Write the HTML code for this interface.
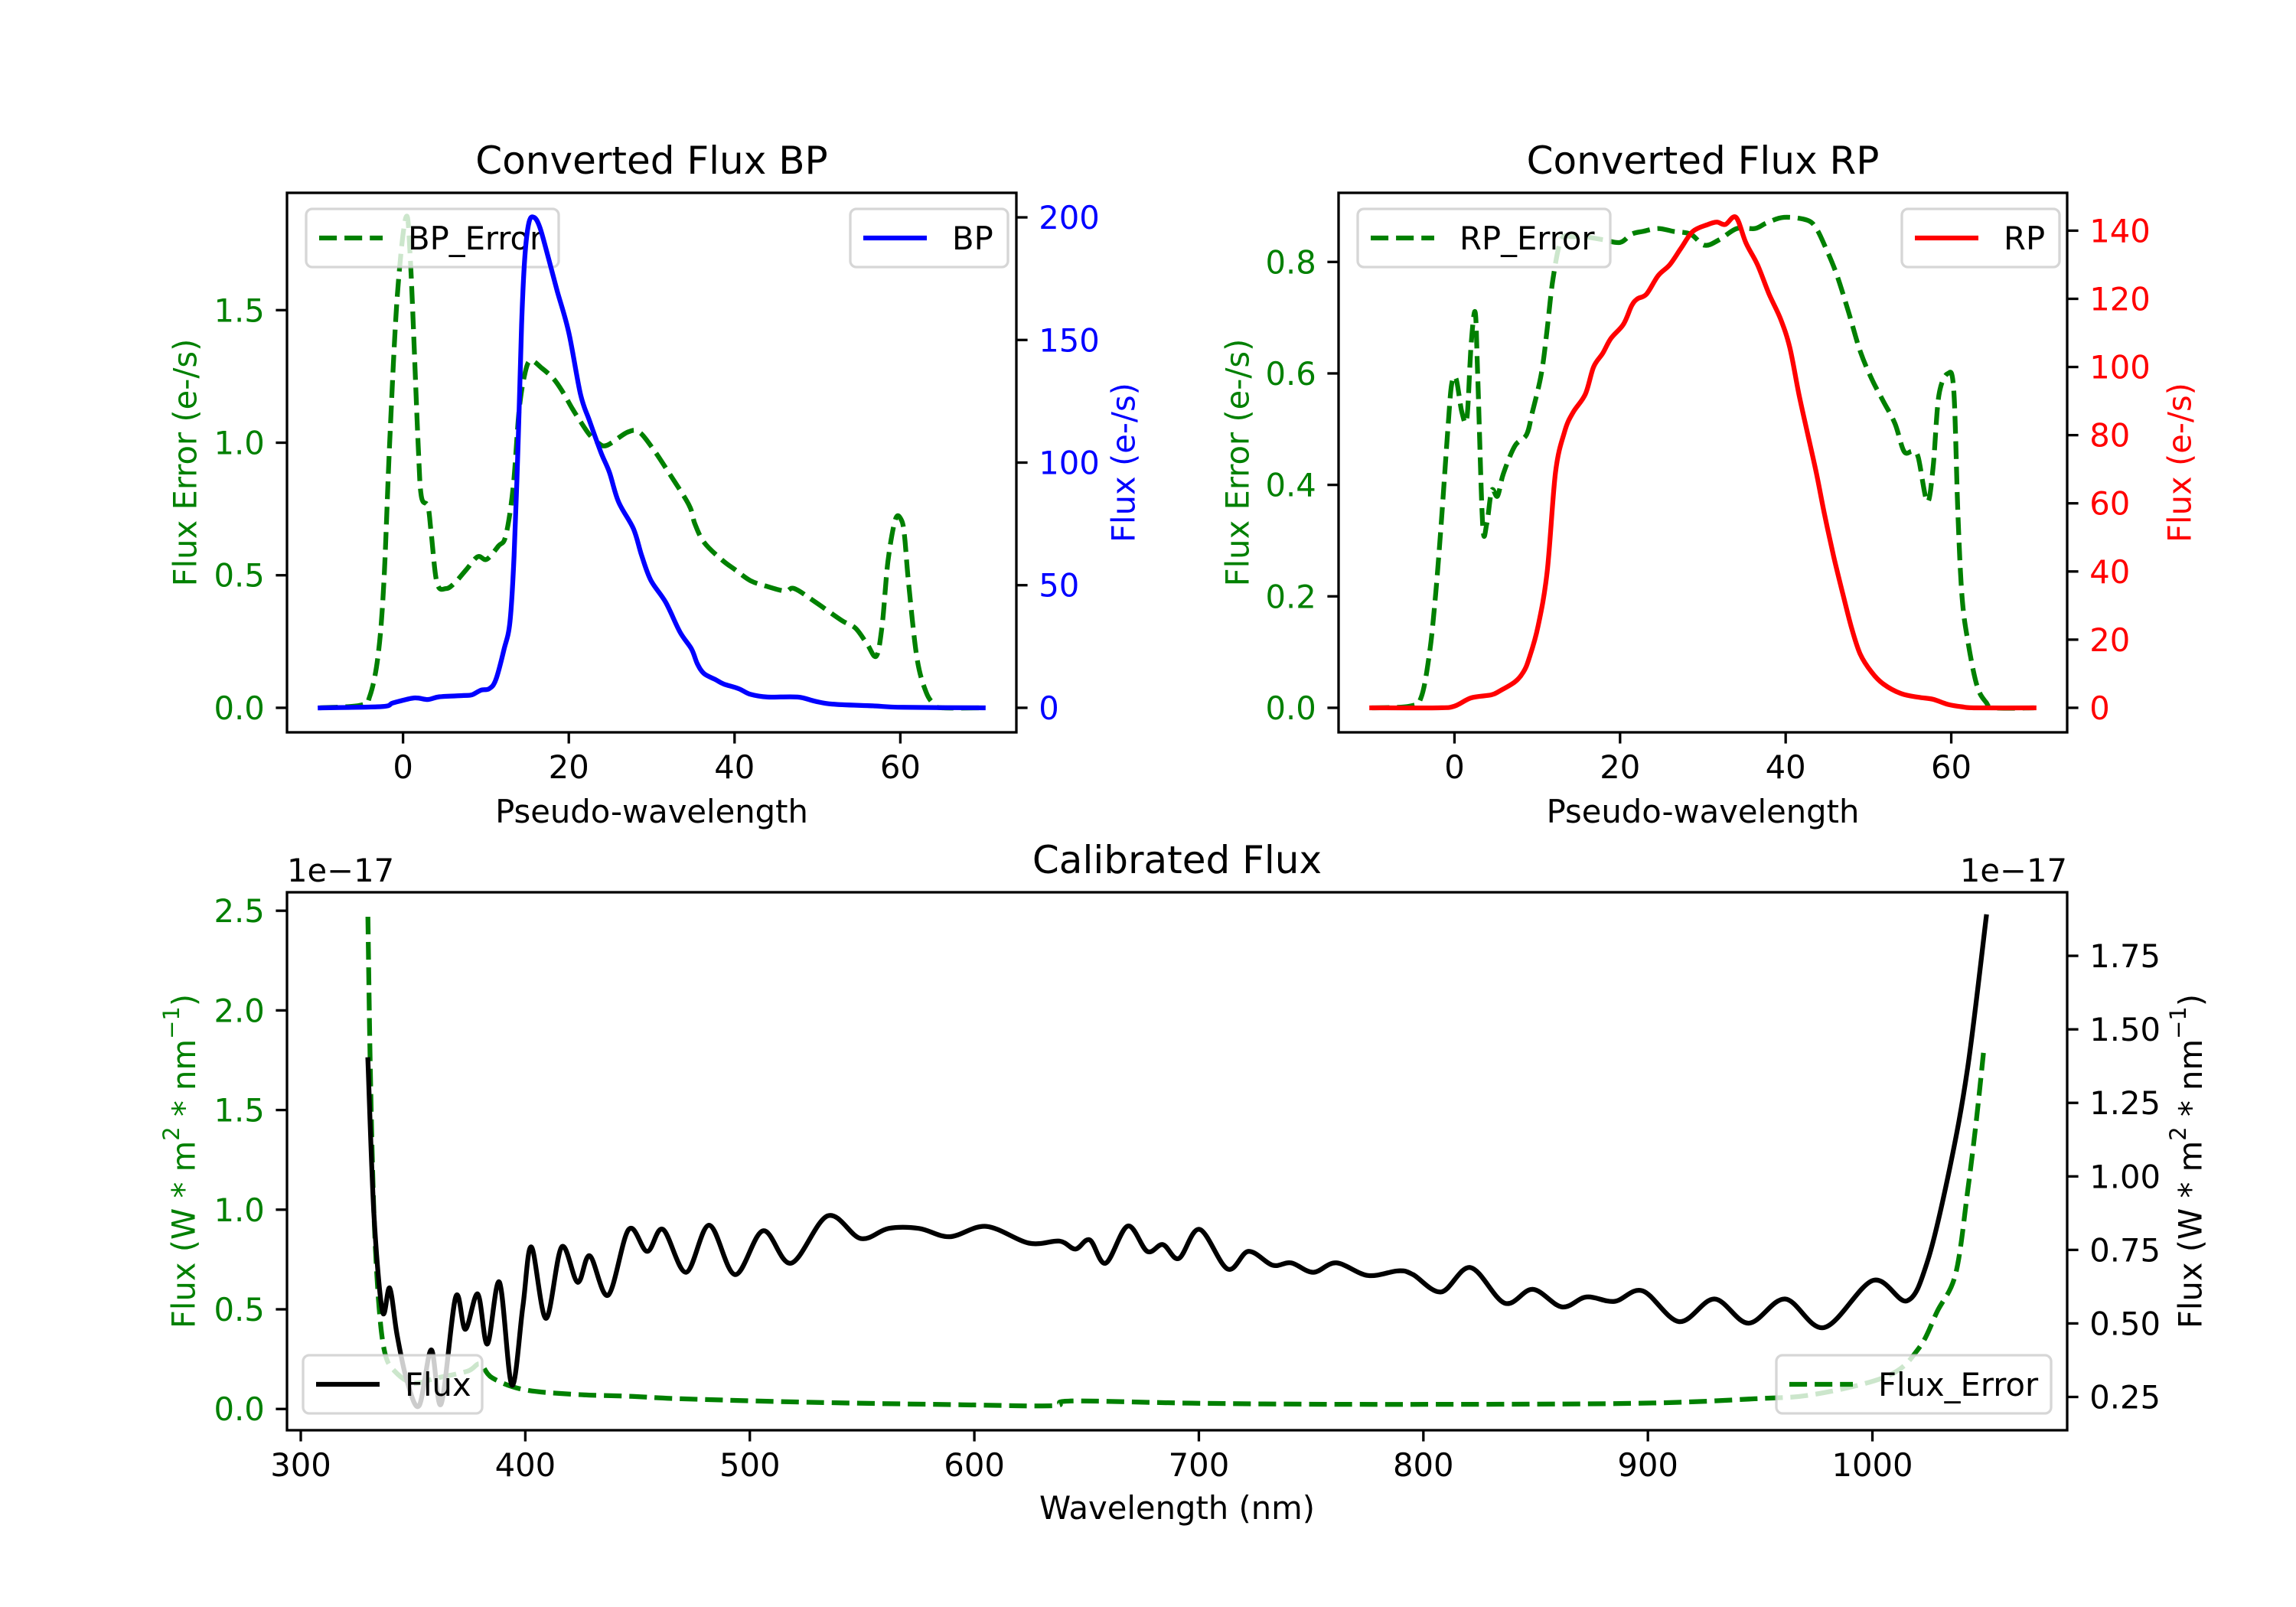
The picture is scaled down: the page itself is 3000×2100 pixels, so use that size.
<!DOCTYPE html>
<html><head><meta charset="utf-8"><style>
html,body{margin:0;padding:0;background:#fff;}
svg{display:block;font-family:"DejaVu Sans","Liberation Sans",sans-serif;}
</style></head><body>
<svg id="fig" width="3000" height="2100" viewBox="0 0 3000 2100" xmlns="http://www.w3.org/2000/svg"></svg>
<script>
// ---------- DATA ----------
const bpX=[-10,-2.6,-1.2,1.3,3.0,4.4,7.3,8.3,9.4,10.4,11.2,12.2,12.9,13.4,13.9,14.3,14.7,15.2,15.8,16.5,17.5,18.6,20,21.4,22.5,23.9,24.9,26,27.8,28.8,29.9,31.7,33.4,34.8,35.5,36.3,37.7,38.7,40.5,41.9,44,47.6,49.7,51.8,56.7,60.3,70];
const bpFlux=[0,0.5,2,4,3.4,4.5,5,5.3,7.2,7.8,11.5,24,35,62,109,156,184,198,200,196,184,170,153,128,117,104,96,84,73,62,52,43,31,24,18,14,11.5,9.7,7.8,5.5,4.4,4.4,2.7,1.5,0.8,0.2,0];
const bpErrX=[-10,-5.1,-4,-3,-2.3,-1.6,-0.7,0.35,0.9,1.8,2.2,3.0,3.4,4.1,5.2,6.2,7.6,9.0,10.1,11.5,12.4,13.3,14,14.7,15.4,16.8,18.2,19.3,20.4,21.4,22.5,23.5,24.6,27.1,28.5,30.2,32,34.5,35.2,36.3,38.4,40.1,41.9,43.7,46.1,47.2,49.7,52.9,54.6,56,57.1,57.8,58.5,59.4,60.1,60.5,61,62,63.1,64.2,65.2,70];
const bpErr=[0,0.01,0.045,0.2,0.48,1.01,1.55,1.85,1.68,1.01,0.8,0.76,0.66,0.47,0.45,0.47,0.52,0.57,0.56,0.61,0.65,0.835,1.12,1.26,1.31,1.28,1.24,1.19,1.13,1.08,1.03,1.0,0.99,1.04,1.04,0.975,0.89,0.765,0.695,0.625,0.56,0.52,0.48,0.46,0.44,0.45,0.4,0.33,0.3,0.24,0.195,0.31,0.55,0.71,0.71,0.65,0.47,0.19,0.06,0.01,0,0];
const rpX=[-10,-2,0,2,4.45,5.5,7.3,8.3,9.0,10.1,11.2,12.2,13.3,14.3,15.8,16.8,17.9,18.9,20.4,21.4,22.1,23.2,24.6,26,27.4,28.8,30.6,31.7,32.7,34,35.2,36.6,38,39.4,40.5,41.6,42.6,43.7,44.7,45.8,46.9,47.9,49,50.4,51.8,53.9,56,57.8,59.6,61.3,63,70];
const rpFlux=[0,0,0.5,2.9,3.8,5,7.6,10.4,14.4,24,40,69,81,86.6,92,100,104,108.4,112.5,118,120,121.4,126.8,130,135,139.8,141.8,142.5,141.8,143.9,136.4,130,121.4,114,105.7,92,81,69,56.7,44.4,33.5,24,15.8,10.4,7,4.2,3.1,2.5,1,0.3,0,0];
const rpErrX=[-10,-5.4,-4,-3,-2.3,-1.6,-0.8,-0.35,0.2,0.9,1.5,2,2.5,2.8,3.4,3.9,4.5,5.2,5.9,7.3,8.7,9.4,10.5,11.2,11.9,12.9,14.3,15.8,17.9,20,21.4,22.8,24.6,26.4,28.5,30.2,32,34.1,36.3,37.7,39.8,42.6,43.7,44.7,46.1,47.6,49,50.4,51.8,53.2,54.3,55.3,56,57.1,57.8,58.5,59.6,60.3,60.8,61.3,62,63.1,64.2,65.2,70];
const rpErr=[0,0.003,0.02,0.1,0.2,0.33,0.5,0.58,0.59,0.53,0.52,0.65,0.71,0.6,0.33,0.33,0.39,0.38,0.42,0.47,0.49,0.53,0.6,0.68,0.77,0.84,0.845,0.845,0.84,0.835,0.85,0.855,0.86,0.855,0.85,0.83,0.84,0.86,0.86,0.87,0.88,0.875,0.86,0.83,0.78,0.71,0.64,0.59,0.55,0.51,0.46,0.46,0.45,0.37,0.43,0.56,0.6,0.57,0.35,0.2,0.12,0.04,0.01,0,0];
const wlX=[329.9,332.6,336.4,339.6,342.9,347.3,352.7,358.1,362.5,369,373.3,378.8,383.1,388.5,394,398.9,402.7,409.2,416.2,423.3,428.7,436.9,446.1,454.3,461.3,471.6,481.9,493.4,505.9,518.4,534.7,549.3,561.8,575.4,589,605.3,624.3,637.9,645,651.4,658.5,668.3,677,684,691.1,700.3,712.8,722.1,732.9,741.1,750.9,761.2,775.3,788.9,795.4,807.9,821,836.2,848.7,861.7,872.6,885.1,897.6,913.9,929.6,944.8,961.1,978.5,1000.2,1015.4,1024.6,1034.4,1042.5,1050.7];
const calFlux=[1.397,0.87,0.54,0.62,0.46,0.305,0.22,0.41,0.226,0.59,0.48,0.60,0.43,0.64,0.29,0.556,0.76,0.517,0.76,0.64,0.73,0.596,0.82,0.745,0.82,0.674,0.834,0.666,0.815,0.705,0.866,0.789,0.823,0.823,0.795,0.83,0.773,0.78,0.753,0.784,0.705,0.831,0.745,0.768,0.721,0.82,0.685,0.745,0.698,0.706,0.674,0.706,0.663,0.679,0.666,0.607,0.69,0.569,0.616,0.556,0.59,0.575,0.611,0.506,0.583,0.501,0.583,0.486,0.646,0.577,0.713,1.027,1.373,1.883];
const errX=[329.9,331,332.6,334.8,337.5,341.8,350,360.8,374.4,379.8,385.3,398.9,420.6,447.7,469.5,529.2,594.4,635.1,643.3,703,784.5,893.2,947.5,974.6,1007.2,1020.8,1028.9,1037.1,1042.5,1046.3,1049.6];
const calErr=[2.47,1.68,0.98,0.52,0.28,0.19,0.13,0.156,0.19,0.226,0.156,0.098,0.074,0.063,0.051,0.033,0.021,0.016,0.04,0.028,0.023,0.028,0.051,0.074,0.168,0.307,0.49,0.68,1.1,1.45,1.8];
const pwTicks=[0,20,40,60];
const bpErrTicks=[0,0.5,1.0,1.5];
const bpTicks=[0,50,100,150,200];
const rpErrTicks=[0,0.2,0.4,0.6,0.8];
const rpTicks=[0,20,40,60,80,100,120,140];
const wlTicks=[300,400,500,600,700,800,900,1000];
const calErrTicks=[0,0.5,1.0,1.5,2.0,2.5];
const calTicks=[0.25,0.5,0.75,1.0,1.25,1.5,1.75];

// ---------- HELPERS ----------
const NS='http://www.w3.org/2000/svg';
const svg=document.getElementById('fig');
const FS=41.7, TL=14.6, LW=6.25;
function el(tag,attrs,parent){const e=document.createElementNS(NS,tag);for(const k in attrs)e.setAttribute(k,attrs[k]);(parent||svg).appendChild(e);return e;}
function lim(arr){let mn=Math.min(...arr),mx=Math.max(...arr),m=(mx-mn)*0.05;return [mn-m,mx+m];}
function scale(d0,d1,p0,p1){return v=>p0+(v-d0)/(d1-d0)*(p1-p0);}
function line(xs,ys,sx,sy,color,dashed,name){
  const P=xs.map((x,i)=>[sx(x),sy(ys[i])]);
  let d='M'+P[0][0].toFixed(1)+' '+P[0][1].toFixed(1);
  const t=0.5;
  for(let i=0;i<P.length-1;i++){
    const p0=P[Math.max(i-1,0)],p1=P[i],p2=P[i+1],p3=P[Math.min(i+2,P.length-1)];
    const c1=[p1[0]+(p2[0]-p0[0])*t/3,p1[1]+(p2[1]-p0[1])*t/3];
    const c2=[p2[0]-(p3[0]-p1[0])*t/3,p2[1]-(p3[1]-p1[1])*t/3];
    d+='C'+c1[0].toFixed(1)+' '+c1[1].toFixed(1)+' '+c2[0].toFixed(1)+' '+c2[1].toFixed(1)+' '+p2[0].toFixed(1)+' '+p2[1].toFixed(1);
  }
  const p=el('path',{d:d,fill:'none',stroke:color,'stroke-width':LW,'stroke-linejoin':'round','stroke-linecap':dashed?'butt':'square'});
  if(dashed)p.setAttribute('stroke-dasharray','23.1 10');
  
  
}
function text(x,y,s,opt,name){
  const t=el('text',{x:x,y:y,'font-size':opt.size||FS,fill:opt.color||'#000','text-anchor':opt.anchor||'middle'});
  if(opt.rot)t.setAttribute('transform','rotate(-90 '+x+' '+y+')');
  if(opt.baseline)t.setAttribute('dominant-baseline',opt.baseline);
  if(opt.html)t.innerHTML=s;else t.textContent=s;
  
  
  return t;
}
function fmt(v,d){return v.toFixed(d);}
function xTicks(ticks,sx,yb,d,name){
  ticks.forEach(v=>{const x=sx(v);
    const l=el('line',{x1:x,x2:x,y1:yb,y2:yb+TL,stroke:'#000','stroke-width':3.3});
    
    
    text(x,yb+TL+14.6+31,fmt(v,d),{},name+'-tick-label');});
}
function yTicks(ticks,sy,xa,side,color,d,name){
  ticks.forEach(v=>{const y=sy(v);const dir=side==='left'?-1:1;
    const l=el('line',{x1:xa,x2:xa+dir*TL,y1:y,y2:y,stroke:'#000','stroke-width':3.3});
    
    
    text(xa+dir*(TL+14.6),y+15,fmt(v,d),{color:color,anchor:side==='left'?'end':'start'},name+'-tick-label');});
}
function frame(x0,x1,y0,y1,name){
  const r=el('rect',{x:x0,y:y0,width:x1-x0,height:y1-y0,fill:'none',stroke:'#000','stroke-width':3.3});
  
  
}
function legend(x,y,w,label,color,dashed,name){
  const g=el('g',{});
  
  
  el('rect',{x:x,y:y,width:w,height:76,rx:8,fill:'rgba(255,255,255,0.8)',stroke:'#cccccc','stroke-opacity':0.8,'stroke-width':3.3},g);
  const l=el('line',{x1:x+17,x2:x+100,y1:y+38,y2:y+38,stroke:color,'stroke-width':LW},g);
  if(dashed)l.setAttribute('stroke-dasharray','23.1 10');
  
  
  const t=el('text',{x:x+133,y:y+53,'font-size':FS,fill:'#000'},g);
  t.textContent=label;
  
  
}
const GREEN='#008000';

// ---------- PANEL BP ----------
(function(){
  const x0=375,x1=1328,y0=252,y1=957;
  const xl=lim(bpX.concat(bpErrX)),yl=lim(bpErr),yr=lim(bpFlux);
  const sx=scale(xl[0],xl[1],x0,x1),sy=scale(yl[0],yl[1],y1,y0),sr=scale(yr[0],yr[1],y1,y0);
  line(bpErrX,bpErr,sx,sy,GREEN,true,'bp-error-line');
  legend(400,273,330,'BP_Error',GREEN,true,'bp-error-legend');
  line(bpX,bpFlux,sx,sr,'#0000ff',false,'bp-flux-line');
  legend(1111,273,206,'BP','#0000ff',false,'bp-legend');
  frame(x0,x1,y0,y1,'bp-axes-frame');
  xTicks(pwTicks,sx,y1,0,'bp-x');
  yTicks(bpErrTicks,sy,x0,'left',GREEN,1,'bp-error-y');
  yTicks(bpTicks,sr,x1,'right','#0000ff',0,'bp-flux-y');
  text((x0+x1)/2,227,'Converted Flux BP',{size:50},'bp-title');
  text((x0+x1)/2,1075,'Pseudo-wavelength',{},'bp-x-axis-title');
  text(242,(y0+y1)/2,'Flux Error (e-/s)',{color:GREEN,rot:true,baseline:'central'},'bp-error-y-axis-title');
  text(1468,(y0+y1)/2,'Flux (e-/s)',{color:'#0000ff',rot:true,baseline:'central'},'bp-flux-y-axis-title');
})();

// ---------- PANEL RP ----------
(function(){
  const x0=1749,x1=2701,y0=252,y1=957;
  const xl=lim(rpX.concat(rpErrX)),yl=lim(rpErr),yr=lim(rpFlux);
  const sx=scale(xl[0],xl[1],x0,x1),sy=scale(yl[0],yl[1],y1,y0),sr=scale(yr[0],yr[1],y1,y0);
  line(rpErrX,rpErr,sx,sy,GREEN,true,'rp-error-line');
  legend(1774,273,330,'RP_Error',GREEN,true,'rp-error-legend');
  line(rpX,rpFlux,sx,sr,'#ff0000',false,'rp-flux-line');
  legend(2485,273,206,'RP','#ff0000',false,'rp-legend');
  frame(x0,x1,y0,y1,'rp-axes-frame');
  xTicks(pwTicks,sx,y1,0,'rp-x');
  yTicks(rpErrTicks,sy,x0,'left',GREEN,1,'rp-error-y');
  yTicks(rpTicks,sr,x1,'right','#ff0000',0,'rp-flux-y');
  text((x0+x1)/2,227,'Converted Flux RP',{size:50},'rp-title');
  text((x0+x1)/2,1075,'Pseudo-wavelength',{},'rp-x-axis-title');
  text(1617,(y0+y1)/2,'Flux Error (e-/s)',{color:GREEN,rot:true,baseline:'central'},'rp-error-y-axis-title');
  text(2848,(y0+y1)/2,'Flux (e-/s)',{color:'#ff0000',rot:true,baseline:'central'},'rp-flux-y-axis-title');
})();

// ---------- PANEL CALIBRATED ----------
(function(){
  const x0=375,x1=2701,y0=1166,y1=1869;
  const xl=lim(wlX.concat(errX)),yl=lim(calErr),yr=lim(calFlux);
  const sx=scale(xl[0],xl[1],x0,x1),sy=scale(yl[0],yl[1],y1,y0),sr=scale(yr[0],yr[1],y1,y0);
  line(errX,calErr,sx,sy,GREEN,true,'cal-error-line');
  legend(2321,1771,359,'Flux_Error',GREEN,true,'cal-error-legend');
  line(wlX,calFlux,sx,sr,'#000000',false,'cal-flux-line');
  legend(396,1771,234,'Flux','#000000',false,'cal-flux-legend');
  frame(x0,x1,y0,y1,'cal-axes-frame');
  xTicks(wlTicks,sx,y1,0,'cal-x');
  yTicks(calErrTicks,sy,x0,'left',GREEN,1,'cal-error-y');
  yTicks(calTicks,sr,x1,'right','#000',2,'cal-flux-y');
  text((x0+x1)/2,1141,'Calibrated Flux',{size:50},'cal-title');
  text((x0+x1)/2,1985,'Wavelength (nm)',{},'cal-x-axis-title');
  text(x0,1152,'1e\u221217',{anchor:'start'},'cal-left-offset-text');
  text(x1,1152,'1e\u221217',{anchor:'end'},'cal-right-offset-text');
  const lab='Flux (W * m<tspan dy="-16" font-size="29">2</tspan><tspan dy="16"> * nm</tspan><tspan dy="-16" font-size="29">\u22121</tspan><tspan dy="16">)</tspan>';
  text(240,(y0+y1)/2,lab,{color:GREEN,rot:true,baseline:'central',html:true},'cal-error-y-axis-title');
  text(2862,(y0+y1)/2,lab,{color:'#000',rot:true,baseline:'central',html:true},'cal-flux-y-axis-title');
})();
</script>
</body></html>
